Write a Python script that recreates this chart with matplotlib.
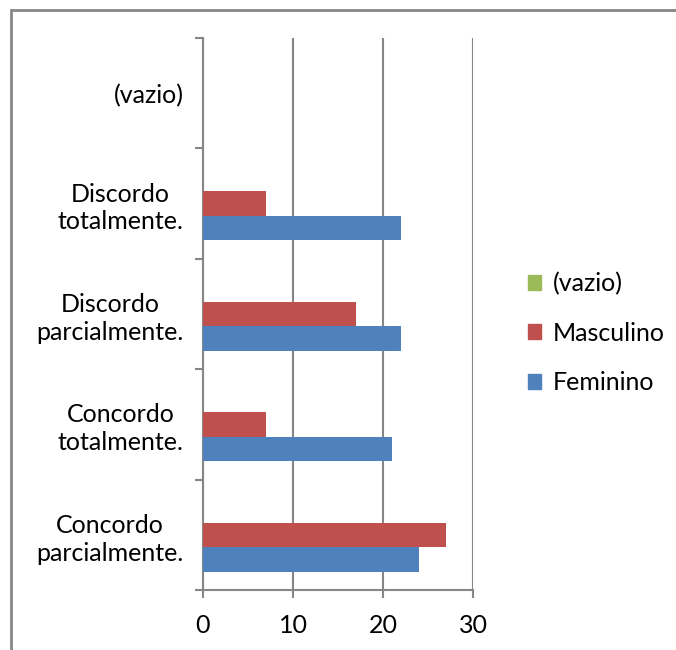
import numpy as np
import matplotlib
matplotlib.use("Agg")
import matplotlib.pyplot as plt
from matplotlib.patches import Patch, Rectangle

categories = ['Concordo\nparcialmente.', 'Concordo\ntotalmente.',
              'Discordo\nparcialmente.', 'Discordo\ntotalmente.', '(vazio)']
feminino = [24, 21, 22, 22, 0]
masculino = [27, 7, 17, 7, 0]
vazio = [0, 0, 0, 0, 0]
series_names = ['Feminino', 'Masculino', '(vazio)']
colors = ['#4F81BD', '#C0504D', '#9BBB59']
xticks = [0, 10, 20, 30]

plt.rcParams['font.family'] = ['Lato', 'DejaVu Sans']
gray = '#868686'
fs = 18

fig = plt.figure(figsize=(6.76, 6.5), dpi=100)
ax = fig.add_axes([203 / 676, 60 / 650, 270 / 676, 552 / 650])

y = np.arange(len(categories))
h = 0.222
for k, vals in enumerate([feminino, masculino, vazio]):
    ax.barh(y + (k - 1) * h, vals, height=h, color=colors[k], zorder=3)

ax.set_xlim(0, 30)
ax.set_ylim(-0.5, len(categories) - 0.5)
ax.set_xticks(xticks)
ax.set_xticklabels([str(t) for t in xticks], fontsize=fs)
ax.xaxis.grid(True, color=gray, linewidth=1.5, zorder=0)
ax.tick_params(axis='x', length=6, width=1.5, color=gray, pad=11)

ax.set_yticks(y)
ax.set_yticklabels(categories, fontsize=fs, multialignment='center', linespacing=1.25)
ax.set_yticks(np.arange(len(categories) + 1) - 0.5, minor=True)
ax.tick_params(axis='y', which='major', length=0, pad=14)
ax.tick_params(axis='y', which='minor', length=6, width=1.5, color=gray)

for s in ['top', 'right']:
    ax.spines[s].set_visible(False)
for s in ['left', 'bottom']:
    ax.spines[s].set_color(gray)
    ax.spines[s].set_linewidth(1.5)

handles = [Patch(color=colors[k]) for k in [2, 1, 0]]
labels = [series_names[k] for k in [2, 1, 0]]
fig.legend(handles, labels, loc='center left', bbox_to_anchor=(505 / 676, 1 - 333 / 650),
           frameon=False, fontsize=fs, handlelength=0.55, handleheight=0.55,
           handletextpad=0.45, labelspacing=1.05)

# outer chart frame (right and bottom edges fall off the canvas)
fig.add_artist(Rectangle((11 / 676, -0.2), 1.0, 1.2 - 10 / 650, transform=fig.transFigure,
                         fill=False, edgecolor=gray, linewidth=2))

fig.savefig('out.png', dpi=100, facecolor='white')
